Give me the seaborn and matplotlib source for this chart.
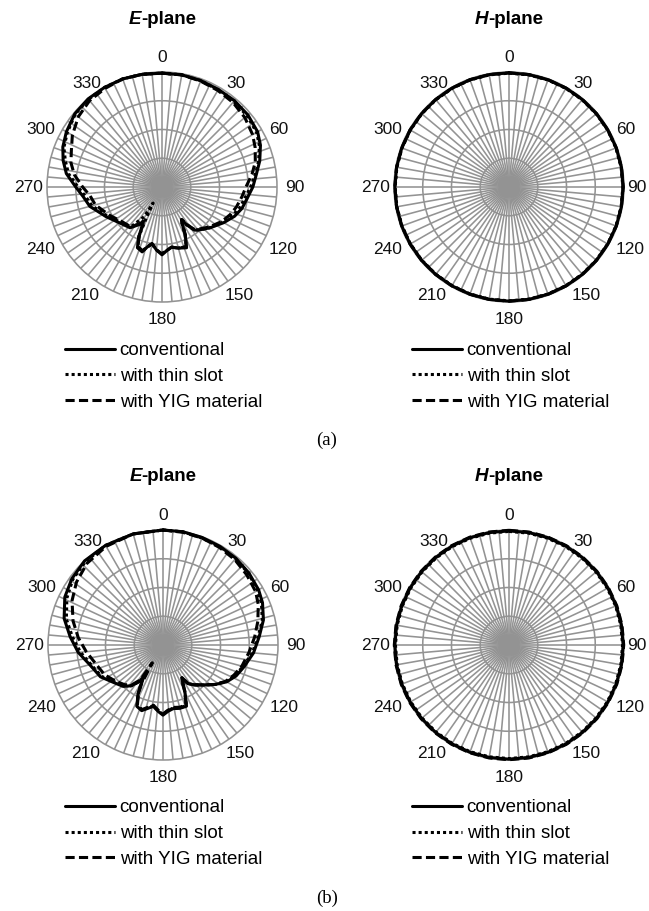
import numpy as np
import matplotlib
matplotlib.use("Agg")
import matplotlib.pyplot as plt
from matplotlib.lines import Line2D
import seaborn as sns

# ---------------- data (relative gain in dB, angles in degrees) ----------------
series_labels = ["conventional", "with thin slot", "with YIG material"]
tick_angles = [0, 30, 60, 90, 120, 150, 180, 210, 240, 270, 300, 330]
tick_labels = ["0", "30", "60", "90", "120", "150", "180", "210", "240", "270", "300", "330"]

# (a) E-plane
angles_a = [0, 10, 20, 30, 40, 50, 60, 67, 75, 82, 90, 97, 105, 112, 120, 130, 138,
            143, 147, 149, 151, 154, 158, 165, 171, 175, 180, 185, 190, 194, 197, 202,
            205, 207, 209, 211, 218, 229, 242, 255, 263, 270, 278, 285, 292, 300, 310,
            320, 330, 340, 350, 360]
e_conv_a = [-0.4, -0.4, -0.6, -0.8, -0.8, -1.0, -1.6, -2.8, -4.8, -6.8, -8.4, -10.0,
            -11.2, -12.8, -15.2, -18.0, -20.0, -21.2, -24.4, -26.8, -25.6, -21.6,
            -17.2, -18.0, -18.8, -18.0, -16.4, -18.0, -20.0, -18.4, -16.4, -17.2,
            -20.8, -24.8, -26.4, -24.8, -22.0, -20.8, -18.0, -14.0, -12.4, -10.0,
            -6.4, -4.4, -2.8, -1.6, -0.4, 0.0, 0.0, 0.0, -0.2, -0.4]
e_slot_a = [-0.4, -0.4, -0.6, -1.0, -1.2, -1.4, -2.0, -3.2, -5.2, -7.2, -9.2, -10.8,
            -12.0, -13.6, -15.6, -18.0, -20.0, -21.2, -24.4, -26.8, -25.6, -21.6,
            -17.6, -18.0, -18.8, -18.0, -16.8, -18.0, -20.0, -18.4, -16.8, -17.6,
            -21.2, -28.0, -33.6, -28.0, -22.4, -21.2, -18.4, -14.8, -13.2, -10.8,
            -7.2, -5.2, -3.2, -2.0, -0.6, -0.2, 0.0, 0.0, -0.2, -0.4]
e_yig_a = [-0.4, -0.4, -0.8, -1.2, -1.6, -2.4, -3.6, -4.8, -6.4, -8.4, -10.8, -12.0,
           -13.2, -14.4, -16.0, -18.4, -20.4, -21.6, -24.8, -26.8, -25.6, -21.6,
           -17.6, -18.0, -18.8, -18.0, -16.8, -18.0, -20.0, -18.4, -16.8, -17.6,
           -21.2, -25.2, -26.8, -25.2, -22.4, -21.6, -19.2, -16.0, -14.8, -12.4,
           -9.2, -7.2, -6.0, -4.0, -2.0, -0.8, -0.4, 0.0, -0.2, -0.4]

# (b) E-plane
angles_b = [0, 10, 20, 30, 40, 50, 60, 67, 76, 85, 95, 105, 113, 120, 127, 134, 142,
            147, 150, 152, 155, 159, 165, 171, 176, 180, 184, 189, 194, 198, 203, 207,
            209, 211, 213, 218, 224, 233, 243, 255, 265, 275, 285, 296, 306, 317, 330,
            345, 360]
e_conv_b = [0.0, 0.0, -0.2, -0.4, -0.6, -1.0, -1.6, -2.4, -4.0, -6.4, -8.4, -10.8,
            -12.4, -14.4, -17.2, -20.0, -22.4, -24.0, -26.8, -25.6, -22.0, -17.2,
            -17.2, -17.6, -16.8, -15.6, -16.8, -18.4, -17.2, -16.0, -16.8, -20.8,
            -24.0, -26.8, -24.8, -22.0, -20.0, -18.4, -15.6, -13.6, -10.4, -7.6,
            -4.4, -2.0, -0.8, 0.0, 0.0, 0.0, 0.0]
e_slot_b = [0.0, 0.0, -0.4, -0.6, -0.8, -1.2, -2.0, -2.8, -4.4, -6.8, -8.8, -11.2,
            -12.8, -14.6, -17.2, -20.0, -22.4, -24.0, -26.8, -25.6, -22.0, -17.4,
            -17.4, -17.8, -17.0, -15.8, -17.0, -18.6, -17.4, -16.2, -17.0, -21.0,
            -24.0, -26.8, -24.8, -22.0, -20.4, -18.8, -16.0, -14.0, -11.2, -8.4,
            -5.2, -2.8, -1.2, -0.4, 0.0, 0.0, 0.0]
e_yig_b = [0.0, -0.2, -0.4, -0.8, -1.2, -2.0, -2.8, -4.0, -6.0, -8.0, -10.0, -11.6,
           -13.2, -14.8, -17.2, -20.0, -22.4, -24.0, -26.8, -25.6, -22.0, -17.6,
           -17.6, -18.0, -17.2, -16.0, -17.2, -18.8, -17.6, -16.4, -17.2, -21.2,
           -24.8, -32.8, -25.6, -22.4, -20.8, -19.2, -17.2, -15.6, -13.2, -10.4,
           -7.6, -4.8, -2.8, -1.2, -0.4, 0.0, 0.0]

# H-plane (both cases): essentially omnidirectional, sampled every 10 degrees
h_angles = [0, 10, 20, 30, 40, 50, 60, 70, 80, 90, 100, 110, 120, 130, 140, 150, 160,
            170, 180, 190, 200, 210, 220, 230, 240, 250, 260, 270, 280, 290, 300, 310,
            320, 330, 340, 350, 360]
h_conv_a = [-0.3, -0.3, -0.3, -0.3, -0.3, -0.3, -0.3, -0.3, -0.3, -0.3, -0.3, -0.3,
            -0.3, -0.3, -0.3, -0.3, -0.3, -0.3, -0.3, -0.3, -0.3, -0.3, -0.3, -0.3,
            -0.3, -0.3, -0.3, -0.3, -0.3, -0.3, -0.3, -0.3, -0.3, -0.3, -0.3, -0.3, -0.3]
h_slot_a = [-0.4, -0.4, -0.4, -0.4, -0.4, -0.4, -0.4, -0.4, -0.4, -0.4, -0.4, -0.4,
            -0.4, -0.4, -0.4, -0.4, -0.4, -0.4, -0.4, -0.4, -0.4, -0.4, -0.4, -0.4,
            -0.4, -0.4, -0.4, -0.4, -0.4, -0.4, -0.4, -0.4, -0.4, -0.4, -0.4, -0.4, -0.4]
h_yig_a = [-0.3, -0.3, -0.3, -0.3, -0.3, -0.3, -0.3, -0.3, -0.3, -0.3, -0.3, -0.3,
           -0.3, -0.3, -0.3, -0.3, -0.3, -0.3, -0.3, -0.3, -0.3, -0.3, -0.3, -0.3,
           -0.3, -0.3, -0.3, -0.3, -0.3, -0.3, -0.3, -0.3, -0.3, -0.3, -0.3, -0.3, -0.3]
h_conv_b = [-0.3, -0.3, -0.3, -0.3, -0.3, -0.3, -0.3, -0.3, -0.3, -0.3, -0.3, -0.3,
            -0.3, -0.3, -0.3, -0.3, -0.3, -0.3, -0.3, -0.3, -0.3, -0.3, -0.3, -0.3,
            -0.3, -0.3, -0.3, -0.3, -0.3, -0.3, -0.3, -0.3, -0.3, -0.3, -0.3, -0.3, -0.3]
h_slot_b = [-0.5, -0.5, -0.5, -0.5, -0.5, -0.5, -0.5, -0.5, -0.5, -0.5, -0.5, -0.5,
            -0.5, -0.5, -0.5, -0.5, -0.5, -0.5, -0.5, -0.5, -0.5, -0.5, -0.5, -0.5,
            -0.5, -0.5, -0.5, -0.5, -0.5, -0.5, -0.5, -0.5, -0.5, -0.5, -0.5, -0.5, -0.5]
h_yig_b = [-0.1, -0.1, -0.1, -0.1, -0.1, -0.1, -0.1, -0.1, -0.1, -0.1, -0.1, -0.1,
           -0.1, -0.1, -0.1, -0.1, -0.1, -0.1, -0.1, -0.1, -0.1, -0.1, -0.1, -0.1,
           -0.1, -0.1, -0.1, -0.1, -0.1, -0.1, -0.1, -0.1, -0.1, -0.1, -0.1, -0.1, -0.1]

# ---------------- styling ----------------
sns.set_style("white")
plt.rcParams["font.family"] = ["Liberation Sans", "DejaVu Sans"]
plt.rcParams["text.color"] = "black"

W, H = 649, 911
fig = plt.figure(figsize=(W / 100, H / 100), dpi=100)

GRID = "#939393"
LW = 2.2
styles = ["-", (0, (1, 1)), (0, (3, 1.4))]
R_MIN, R_MAX = -40, 0
RADIUS = 115

# angular label offsets from the plot centre, in pixels (x right, y down)
label_offsets = {0: (0, -130), 30: (74, -103), 60: (117, -58), 90: (133, 0),
                 120: (121, 63), 150: (77, 108), 180: (0, 133), 210: (-77, 108),
                 240: (-121, 63), 270: (-133, 0), 300: (-121, -58), 330: (-75, -103)}


def px(x, y):
    return x / W, 1 - y / H


def polar_panel(cx, cy, r, right_edge=False):
    ax = fig.add_axes([(cx - r) / W, 1 - (cy + r) / H, 2 * r / W, 2 * r / H],
                      projection="polar")
    ax.set_theta_zero_location("N")
    ax.set_theta_direction(-1)
    ax.set_ylim(R_MIN, R_MAX)
    grid_angles = list(range(0, 360, 5))
    ax.set_thetagrids(grid_angles, [""] * len(grid_angles))
    ax.set_yticks([-30, -20, -10])
    ax.set_yticklabels([])
    ax.grid(True, color=GRID, linewidth=1.15)
    ax.spines["polar"].set_color(GRID)
    ax.spines["polar"].set_linewidth(1.15)
    ax.set_facecolor("white")
    for ang, lab in zip(tick_angles, tick_labels):
        dx, dy = label_offsets[ang]
        if right_edge and ang == 90:
            dx -= 5
        ax.annotate(lab, xy=(0.5, 0.5), xycoords="axes fraction", xytext=(dx, -dy),
                    textcoords="offset pixels", ha="center", va="center",
                    fontsize=12.5, color="#111111", annotation_clip=False, zorder=5)
    return ax


def draw_series(ax, angles, values_list):
    theta = np.deg2rad(angles)
    for vals, ls in zip(values_list, styles):
        sns.lineplot(x=theta, y=vals, ax=ax, color="black", linewidth=LW,
                     linestyle=ls, sort=False, estimator=None, clip_on=False,
                     zorder=4)
    ax.set_xlabel("")
    ax.set_ylabel("")
    leg = ax.get_legend()
    if leg is not None:
        leg.remove()


def plane_title(cx, cy, letter):
    r = fig.canvas.get_renderer()
    t1 = fig.text(0, 0, letter, fontsize=13.5, fontweight="bold", fontstyle="italic",
                  va="center", ha="left")
    t2 = fig.text(0, 0, "-plane", fontsize=13.5, fontweight="bold", va="center", ha="left")
    w1 = t1.get_window_extent(r).width
    w2 = t2.get_window_extent(r).width
    x0 = cx - (w1 + w2) / 2
    t1.set_position(px(x0, cy))
    t2.set_position(px(x0 + w1, cy))


def legend_block(x, y):
    handles = [Line2D([], [], color="black", linewidth=LW, linestyle=ls) for ls in styles]
    fig.legend(handles, series_labels, loc="upper left", bbox_to_anchor=px(x, y),
               frameon=False, fontsize=13.5, handlelength=2.67, handletextpad=0.25,
               labelspacing=0.47, borderpad=0, borderaxespad=0)


panels = [
    (162, 187, angles_a, [e_conv_a, e_slot_a, e_yig_a], "E", False),
    (509, 187, h_angles, [h_conv_a, h_slot_a, h_yig_a], "H", True),
    (163, 645, angles_b, [e_conv_b, e_slot_b, e_yig_b], "E", False),
    (509, 645, h_angles, [h_conv_b, h_slot_b, h_yig_b], "H", True),
]

for cx, cy, ang, vals, letter, right in panels:
    ax = polar_panel(cx, cy, RADIUS, right_edge=right)
    draw_series(ax, ang, vals)
    plane_title(cx, cy - 168, letter)

legend_block(65, 342)
legend_block(412, 342)
legend_block(65, 799)
legend_block(412, 799)

for label, y in [("(a)", 440), ("(b)", 898)]:
    fig.text(*px(327, y), label, fontsize=13.5, family="Liberation Serif",
             ha="center", va="center")

fig.savefig("out.png", dpi=100, facecolor="white")
